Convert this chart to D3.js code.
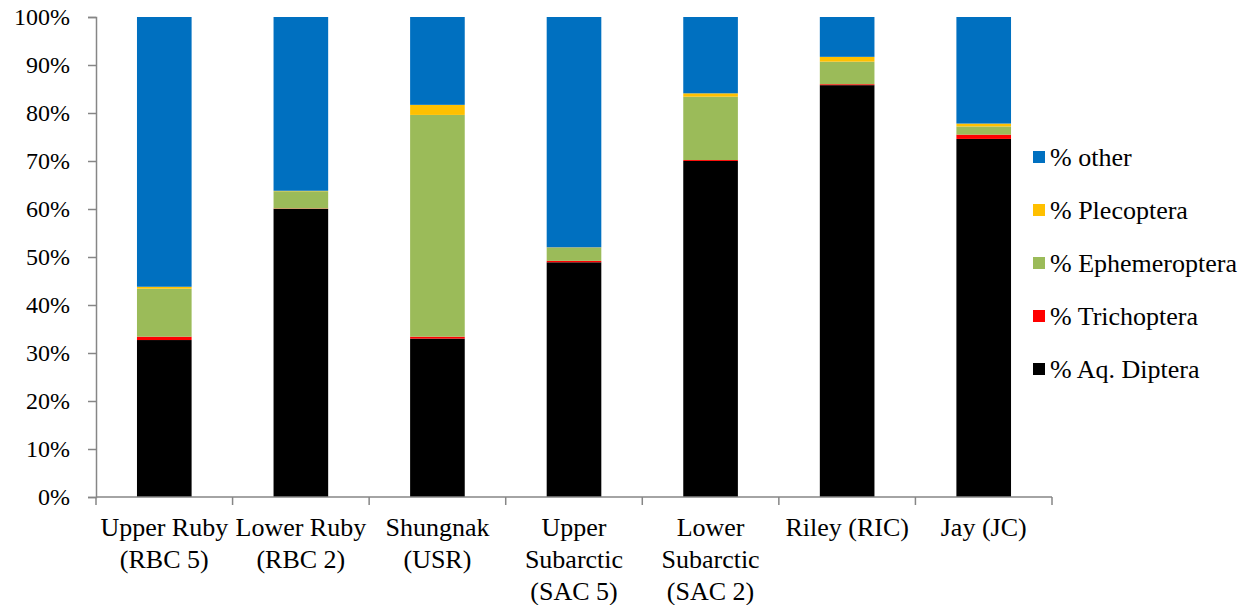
<!DOCTYPE html>
<html>
<head>
<meta charset="utf-8">
<script src="https://cdn.jsdelivr.net/npm/d3@7"></script>
<style>
  html, body { margin: 0; padding: 0; background: #fff; }
  svg text { font-family: "Liberation Serif", "Times New Roman", serif; fill: #000; }
</style>
</head>
<body>
<svg id="chart" width="1252" height="605"></svg>
<script>
// Sites (each label line on its own row)
const categories = [
  ["Upper Ruby", "(RBC 5)"],
  ["Lower Ruby", "(RBC 2)"],
  ["Shungnak", "(USR)"],
  ["Upper", "Subarctic", "(SAC 5)"],
  ["Lower", "Subarctic", "(SAC 2)"],
  ["Riley (RIC)"],
  ["Jay (JC)"]
];

// Percent composition per site, stacked bottom to top
const aqDiptera     = [32.7, 60.0, 33.0, 48.9, 70.0, 85.8, 74.6];
const trichoptera   = [0.7, 0.1, 0.4, 0.3, 0.2, 0.2, 0.9];
const ephemeroptera = [10.0, 3.6, 46.2, 2.7, 13.2, 4.7, 1.7];
const plecoptera    = [0.4, 0.1, 2.1, 0.1, 0.7, 1.0, 0.6];
const other         = [56.2, 36.2, 18.3, 48.0, 15.9, 8.3, 22.2];

const seriesNames = ["% Aq. Diptera", "% Trichoptera", "% Ephemeroptera", "% Plecoptera", "% other"];
const seriesValues = [aqDiptera, trichoptera, ephemeroptera, plecoptera, other];
const seriesColors = ["#000000", "#FF0000", "#9BBB59", "#FFC000", "#0070C0"];
const yTicks = [0, 10, 20, 30, 40, 50, 60, 70, 80, 90, 100];

const svg = d3.select("#chart");
const plotLeft = 96, plotRight = 1052, plotTop = 17, plotBottom = 497;

const rows = categories.map((c, i) => {
  const r = { key: i };
  seriesNames.forEach((s, j) => { r[s] = seriesValues[j][i]; });
  return r;
});

const x = d3.scaleBand().domain(d3.range(categories.length)).range([plotLeft, plotRight]).padding(0);
const y = d3.scaleLinear().domain([0, 100]).range([plotBottom, plotTop]);
const barW = x.bandwidth() * 0.4;

const stack = d3.stack().keys(seriesNames)(rows);

svg.append("g").selectAll("g")
  .data(stack)
  .join("g")
  .attr("fill", (d, i) => seriesColors[i])
  .selectAll("rect")
  .data(d => d)
  .join("rect")
  .attr("x", d => x(d.data.key) + (x.bandwidth() - barW) / 2)
  .attr("width", barW)
  .attr("y", d => y(d[1]))
  .attr("height", d => Math.max(0, y(d[0]) - y(d[1])));

// Y axis
const yAxis = svg.append("g")
  .attr("transform", `translate(${plotLeft},0)`)
  .call(d3.axisLeft(y).tickValues(yTicks).tickFormat(d => d + "%").tickSize(8).tickPadding(18));
yAxis.select(".domain").attr("stroke", "#868686").attr("stroke-width", 1.5);
yAxis.selectAll(".tick line").attr("stroke", "#868686").attr("stroke-width", 1.5);
yAxis.selectAll(".tick text").attr("font-size", 24);

// X axis: ticks at category boundaries
const xAxisG = svg.append("g");
xAxisG.append("line")
  .attr("x1", plotLeft).attr("x2", plotRight).attr("y1", plotBottom).attr("y2", plotBottom)
  .attr("stroke", "#868686").attr("stroke-width", 1.5);
const boundaries = d3.range(categories.length + 1).map(i => plotLeft + i * x.step());
xAxisG.selectAll("line.tk")
  .data(boundaries)
  .join("line")
  .attr("class", "tk")
  .attr("x1", d => d).attr("x2", d => d)
  .attr("y1", plotBottom).attr("y2", plotBottom + 8)
  .attr("stroke", "#868686").attr("stroke-width", 1.5);

xAxisG.selectAll("text.cat")
  .data(categories)
  .join("text")
  .attr("class", "cat")
  .attr("text-anchor", "middle")
  .attr("font-size", 26)
  .attr("transform", (d, i) => `translate(${x(i) + x.bandwidth() / 2},536)`)
  .selectAll("tspan")
  .data(d => d)
  .join("tspan")
  .attr("x", 0)
  .attr("dy", (d, i) => i === 0 ? 0 : 32)
  .text(d => d);

// Legend, top entry is the top of the stack
const legendOrder = d3.range(seriesNames.length).reverse();
const legend = svg.append("g").selectAll("g")
  .data(legendOrder)
  .join("g")
  .attr("transform", (d, i) => `translate(1033,${157 + i * 53})`);
legend.append("rect")
  .attr("x", 0).attr("y", -6).attr("width", 12).attr("height", 12)
  .attr("fill", d => seriesColors[d]);
legend.append("text")
  .attr("x", 17).attr("y", 0).attr("dy", "0.35em")
  .attr("font-size", 26)
  .text(d => seriesNames[d]);
</script>
</body>
</html>
